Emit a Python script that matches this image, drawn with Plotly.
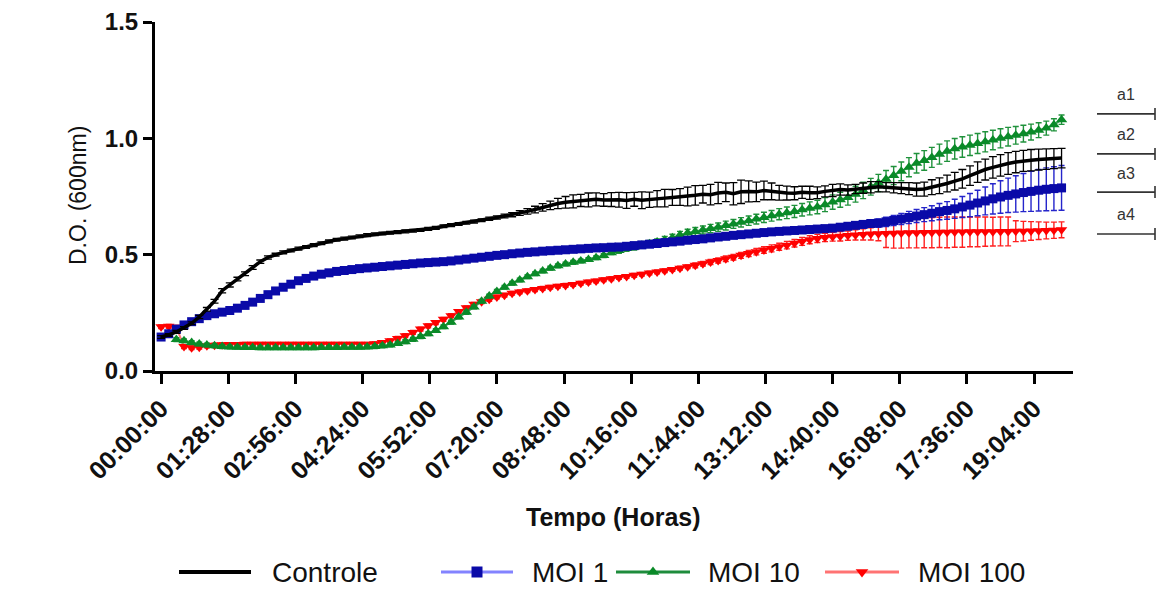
import plotly.graph_objects as go

# ---------------- data ----------------
minutes = list(range(0, 1190, 10))  # sampling grid (10 min)

tick_minutes = [0, 88, 176, 264, 352, 440, 528, 616, 704, 792, 880, 968, 1056, 1144]
tick_labels = ["00:00:00", "01:28:00", "02:56:00", "04:24:00", "05:52:00", "07:20:00",
               "08:48:00", "10:16:00", "11:44:00", "13:12:00", "14:40:00", "16:08:00",
               "17:36:00", "19:04:00"]

ctrl = [
    0.146, 0.155, 0.168, 0.185, 0.205, 0.232, 0.265, 0.300, 0.345, 0.370,
    0.395, 0.418, 0.445, 0.470, 0.488, 0.500, 0.510, 0.518, 0.526, 0.533,
    0.541, 0.549, 0.557, 0.564, 0.569, 0.574, 0.579, 0.584, 0.588, 0.591,
    0.594, 0.597, 0.600, 0.603, 0.606, 0.611, 0.615, 0.622, 0.627, 0.632,
    0.637, 0.642, 0.648, 0.654, 0.660, 0.666, 0.672, 0.679, 0.686, 0.694,
    0.703, 0.712, 0.720, 0.725, 0.729, 0.733, 0.735, 0.738, 0.735, 0.737,
    0.736, 0.733, 0.738, 0.734, 0.736, 0.740, 0.743, 0.746, 0.748, 0.750,
    0.755, 0.760, 0.758, 0.765, 0.768, 0.762, 0.770, 0.772, 0.770, 0.776,
    0.772, 0.766, 0.765, 0.764, 0.768, 0.766, 0.766, 0.772, 0.776, 0.780,
    0.778, 0.782, 0.786, 0.790, 0.792, 0.790, 0.788, 0.786, 0.784, 0.780,
    0.782, 0.790, 0.796, 0.806, 0.816, 0.826, 0.840, 0.855, 0.866, 0.875,
    0.884, 0.892, 0.898, 0.903, 0.906, 0.909, 0.911, 0.913, 0.915]
ctrl_sd = [
    0.006, 0.006, 0.006, 0.006, 0.006, 0.007, 0.008, 0.008, 0.009, 0.009,
    0.008, 0.008, 0.008, 0.007, 0.007, 0.006, 0.006, 0.006, 0.006, 0.006,
    0.006, 0.006, 0.006, 0.006, 0.006, 0.006, 0.006, 0.006, 0.006, 0.006,
    0.006, 0.006, 0.006, 0.006, 0.006, 0.006, 0.006, 0.006, 0.006, 0.006,
    0.006, 0.006, 0.006, 0.007, 0.007, 0.008, 0.009, 0.010, 0.012, 0.014,
    0.016, 0.018, 0.022, 0.025, 0.028, 0.026, 0.030, 0.028, 0.027, 0.030,
    0.032, 0.034, 0.030, 0.036, 0.033, 0.035, 0.038, 0.034, 0.036, 0.040,
    0.042, 0.038, 0.044, 0.046, 0.040, 0.048, 0.050, 0.045, 0.042, 0.040,
    0.036, 0.032, 0.030, 0.028, 0.026, 0.028, 0.025, 0.024, 0.026, 0.024,
    0.022, 0.020, 0.022, 0.024, 0.022, 0.020, 0.022, 0.024, 0.026, 0.028,
    0.030, 0.032, 0.034, 0.036, 0.038, 0.040, 0.042, 0.044, 0.045, 0.046,
    0.046, 0.047, 0.046, 0.045, 0.046, 0.045, 0.044, 0.043, 0.042]

moi1 = [
    0.146, 0.160, 0.180, 0.198, 0.212, 0.225, 0.238, 0.246, 0.253, 0.260,
    0.270, 0.282, 0.296, 0.312, 0.328, 0.344, 0.360, 0.373, 0.388, 0.398,
    0.408, 0.416, 0.422, 0.428, 0.432, 0.436, 0.440, 0.443, 0.446, 0.449,
    0.452, 0.455, 0.458, 0.461, 0.464, 0.466, 0.468, 0.470, 0.473, 0.477,
    0.481, 0.485, 0.489, 0.493, 0.497, 0.500, 0.504, 0.507, 0.510, 0.512,
    0.515, 0.517, 0.519, 0.521, 0.523, 0.525, 0.527, 0.529, 0.530, 0.532,
    0.533, 0.536, 0.539, 0.542, 0.545, 0.548, 0.552, 0.555, 0.558, 0.562,
    0.565, 0.568, 0.572, 0.576, 0.579, 0.583, 0.586, 0.589, 0.592, 0.595,
    0.598, 0.600, 0.602, 0.604, 0.606, 0.608, 0.610, 0.612, 0.614, 0.618,
    0.622, 0.626, 0.630, 0.634, 0.636, 0.641, 0.647, 0.653, 0.660, 0.666,
    0.672, 0.678, 0.685, 0.690, 0.697, 0.705, 0.713, 0.722, 0.731, 0.740,
    0.748, 0.755, 0.761, 0.767, 0.772, 0.777, 0.781, 0.784, 0.787]
moi1_sd = [
    0.010, 0.010, 0.010, 0.011, 0.011, 0.012, 0.012, 0.012, 0.011, 0.011,
    0.012, 0.012, 0.013, 0.013, 0.014, 0.014, 0.013, 0.013, 0.012, 0.012,
    0.011, 0.011, 0.011, 0.011, 0.011, 0.011, 0.011, 0.011, 0.011, 0.011,
    0.010, 0.010, 0.010, 0.010, 0.010, 0.010, 0.010, 0.010, 0.010, 0.010,
    0.010, 0.010, 0.010, 0.010, 0.010, 0.010, 0.010, 0.010, 0.010, 0.010,
    0.010, 0.010, 0.010, 0.010, 0.010, 0.010, 0.010, 0.010, 0.010, 0.010,
    0.010, 0.010, 0.010, 0.010, 0.010, 0.011, 0.011, 0.011, 0.011, 0.011,
    0.011, 0.011, 0.011, 0.011, 0.011, 0.011, 0.011, 0.011, 0.011, 0.011,
    0.011, 0.011, 0.011, 0.011, 0.011, 0.011, 0.011, 0.011, 0.011, 0.011,
    0.012, 0.013, 0.014, 0.016, 0.018, 0.020, 0.022, 0.024, 0.026, 0.028,
    0.030, 0.032, 0.035, 0.038, 0.041, 0.045, 0.050, 0.055, 0.060, 0.065,
    0.070, 0.074, 0.078, 0.082, 0.086, 0.089, 0.092, 0.094, 0.096]

moi10 = [
    None, None, 0.135, 0.130, 0.122, 0.116, 0.112, 0.108, 0.105, 0.103,
    0.102, 0.101, 0.101, 0.100, 0.100, 0.100, 0.100, 0.100, 0.100, 0.100,
    0.100, 0.101, 0.101, 0.101, 0.102, 0.102, 0.102, 0.103, 0.105, 0.108,
    0.112, 0.118, 0.126, 0.136, 0.148, 0.160, 0.174, 0.190, 0.210, 0.232,
    0.252, 0.275, 0.300, 0.322, 0.342, 0.360, 0.377, 0.391, 0.405, 0.418,
    0.430, 0.442, 0.452, 0.460, 0.467, 0.473, 0.479, 0.487, 0.496, 0.508,
    0.518, 0.526, 0.533, 0.540, 0.547, 0.554, 0.563, 0.573, 0.584, 0.593,
    0.600, 0.606, 0.612, 0.618, 0.625, 0.632, 0.639, 0.646, 0.653, 0.660,
    0.667, 0.674, 0.680, 0.686, 0.693, 0.699, 0.705, 0.715, 0.726, 0.736,
    0.746, 0.760, 0.776, 0.792, 0.808, 0.824, 0.840, 0.858, 0.876, 0.893,
    0.905, 0.918, 0.932, 0.945, 0.955, 0.963, 0.970, 0.978, 0.985, 0.993,
    1.000, 1.007, 1.013, 1.020, 1.027, 1.035, 1.044, 1.058, 1.080]
moi10_sd = [
    0.008, 0.008, 0.008, 0.008, 0.008, 0.008, 0.008, 0.008, 0.008, 0.008,
    0.008, 0.008, 0.008, 0.008, 0.008, 0.008, 0.008, 0.008, 0.008, 0.008,
    0.008, 0.008, 0.008, 0.008, 0.008, 0.008, 0.008, 0.008, 0.008, 0.008,
    0.008, 0.008, 0.008, 0.008, 0.008, 0.008, 0.008, 0.008, 0.008, 0.008,
    0.008, 0.008, 0.008, 0.008, 0.008, 0.008, 0.008, 0.008, 0.008, 0.008,
    0.008, 0.008, 0.008, 0.008, 0.008, 0.008, 0.008, 0.008, 0.008, 0.008,
    0.012, 0.012, 0.013, 0.013, 0.014, 0.014, 0.015, 0.015, 0.016, 0.016,
    0.017, 0.017, 0.018, 0.018, 0.019, 0.019, 0.020, 0.020, 0.021, 0.022,
    0.023, 0.024, 0.025, 0.026, 0.027, 0.028, 0.029, 0.030, 0.031, 0.032,
    0.033, 0.034, 0.035, 0.036, 0.037, 0.038, 0.039, 0.040, 0.041, 0.042,
    0.042, 0.043, 0.043, 0.044, 0.044, 0.044, 0.044, 0.043, 0.043, 0.042,
    0.041, 0.040, 0.038, 0.036, 0.034, 0.032, 0.030, 0.026, 0.020]

moi100 = [
    0.190, 0.192, 0.188, 0.105, 0.100, 0.102, 0.108, 0.111, 0.113, 0.114,
    0.114, 0.115, 0.115, 0.115, 0.115, 0.115, 0.115, 0.115, 0.115, 0.115,
    0.115, 0.115, 0.115, 0.115, 0.115, 0.115, 0.115, 0.115, 0.117, 0.122,
    0.130, 0.140, 0.152, 0.166, 0.180, 0.194, 0.208, 0.222, 0.238, 0.256,
    0.272, 0.287, 0.298, 0.308, 0.318, 0.326, 0.334, 0.340, 0.345, 0.350,
    0.355, 0.360, 0.364, 0.368, 0.372, 0.377, 0.382, 0.387, 0.392, 0.397,
    0.402, 0.406, 0.411, 0.416, 0.421, 0.426, 0.431, 0.436, 0.442, 0.448,
    0.454, 0.461, 0.468, 0.475, 0.482, 0.489, 0.497, 0.505, 0.513, 0.520,
    0.527, 0.534, 0.541, 0.549, 0.557, 0.564, 0.570, 0.574, 0.577, 0.579,
    0.582, 0.585, 0.587, 0.589, 0.590, 0.591, 0.592, 0.593, 0.594, 0.594,
    0.595, 0.595, 0.596, 0.596, 0.597, 0.597, 0.598, 0.598, 0.599, 0.599,
    0.600, 0.600, 0.601, 0.601, 0.602, 0.603, 0.604, 0.605, 0.607]
moi100_sd = [
    0.008, 0.008, 0.008, 0.008, 0.008, 0.008, 0.008, 0.008, 0.008, 0.008,
    0.008, 0.008, 0.008, 0.008, 0.008, 0.008, 0.008, 0.008, 0.008, 0.008,
    0.008, 0.008, 0.008, 0.008, 0.008, 0.008, 0.008, 0.008, 0.008, 0.008,
    0.008, 0.008, 0.008, 0.008, 0.008, 0.008, 0.008, 0.008, 0.008, 0.008,
    0.008, 0.008, 0.008, 0.008, 0.008, 0.008, 0.008, 0.008, 0.008, 0.008,
    0.008, 0.008, 0.008, 0.008, 0.008, 0.008, 0.008, 0.008, 0.008, 0.008,
    0.008, 0.008, 0.008, 0.008, 0.008, 0.008, 0.008, 0.008, 0.008, 0.008,
    0.010, 0.010, 0.011, 0.011, 0.012, 0.012, 0.013, 0.013, 0.014, 0.014,
    0.015, 0.015, 0.016, 0.016, 0.017, 0.017, 0.018, 0.018, 0.019, 0.020,
    0.020, 0.022, 0.024, 0.026, 0.030, 0.060, 0.064, 0.065, 0.065, 0.065,
    0.065, 0.065, 0.065, 0.066, 0.065, 0.065, 0.064, 0.064, 0.063, 0.062,
    0.062, 0.062, 0.045, 0.042, 0.040, 0.038, 0.036, 0.035, 0.034]

series_names = ["Controle", "MOI 1", "MOI 10", "MOI 100"]
bracket_labels = ["a1", "a2", "a3", "a4"]
bracket_levels = [1.105, 0.933, 0.769, 0.589]

# ---------------- styling ----------------
VIEW_W, VIEW_H = 1164, 593
OFF = 8                      # default page (body) margin
W, H = VIEW_W - OFF, VIEW_H - OFF
FONT = "Liberation Sans, Arial, Helvetica, sans-serif"
C_BLACK = "#000000"
C_BLUE = "#0a0aa8"
C_GREEN = "#0a8a28"
C_RED = "#ff0000"

def fx(p):
    """window pixel -> paper fraction"""
    return (p - OFF) / W

def fy(p):
    return 1 - (p - OFF) / H

fig = go.Figure()

# draw order: red, green, blue, black
fig.add_trace(go.Scatter(
    x=minutes, y=moi100, mode="lines+markers", name=series_names[3],
    line=dict(color="rgba(255,90,90,0.8)", width=2),
    marker=dict(symbol="triangle-down", size=10, color=C_RED, line=dict(width=0)),
    error_y=dict(type="data", array=moi100_sd, color="rgba(255,20,20,0.95)", thickness=1.4, width=3),
    showlegend=False))
fig.add_trace(go.Scatter(
    x=minutes, y=moi10, mode="lines+markers", name=series_names[2],
    line=dict(color="rgba(30,140,60,0.8)", width=2),
    marker=dict(symbol="triangle-up", size=10, color=C_GREEN, line=dict(width=0)),
    error_y=dict(type="data", array=moi10_sd, color="rgba(20,140,50,0.95)", thickness=1.4, width=3),
    showlegend=False))
fig.add_trace(go.Scatter(
    x=minutes, y=moi1, mode="lines+markers", name=series_names[1],
    line=dict(color="rgba(90,90,255,0.8)", width=2),
    marker=dict(symbol="square", size=9, color=C_BLUE, line=dict(width=0)),
    error_y=dict(type="data", array=moi1_sd, color="rgba(25,25,200,0.95)", thickness=1.4, width=3),
    showlegend=False))
fig.add_trace(go.Scatter(
    x=minutes, y=ctrl, mode="lines", name=series_names[0],
    line=dict(color=C_BLACK, width=3.5),
    error_y=dict(type="data", array=ctrl_sd, color=C_BLACK, thickness=1.3, width=4),
    showlegend=False))

# ---------------- custom legend (overlay axes in window-pixel units) ----------------
leg_y = 572
leg_items = [
    # name, line x0, line x1, text x, line colour, line width, marker symbol, marker colour
    (series_names[0], 179, 251, 270, C_BLACK, 4, None, None),
    (series_names[1], 441, 513, 530, "rgba(90,90,255,0.75)", 3, "square", C_BLUE),
    (series_names[2], 616, 690, 706, "#1e8c3c", 3, "triangle-up", C_GREEN),
    (series_names[3], 825, 899, 916, "rgba(255,80,80,0.8)", 3, "triangle-down", C_RED),
]
for name, x0, x1, tx, lc, lw, sym, mc in leg_items:
    fig.add_trace(go.Scatter(x=[x0, x1], y=[leg_y, leg_y], mode="lines",
                             line=dict(color=lc, width=lw), xaxis="x2", yaxis="y2",
                             showlegend=False, hoverinfo="skip"))
    if sym:
        fig.add_trace(go.Scatter(x=[(x0 + x1) / 2], y=[leg_y], mode="markers",
                                 marker=dict(symbol=sym, size=11, color=mc, line=dict(width=0)),
                                 xaxis="x2", yaxis="y2", showlegend=False, hoverinfo="skip"))
    fig.add_annotation(x=tx, y=leg_y, xref="x2", yref="y2", text=name, showarrow=False,
                       xanchor="left", yanchor="middle",
                       font=dict(family=FONT, size=28, color="#111111"))

# ---------------- brackets a1..a4 (line with end tick) ----------------
tick_half = 6 * 1.5 / (371 - 22)   # 6 px expressed in y-data units
xa, xb = fx(1097), fx(1155)
for lab, lev in zip(bracket_labels, bracket_levels):
    path = (f"M {xa},{lev} L {xb},{lev} "
            f"M {xb},{lev - tick_half} L {xb},{lev + tick_half}")
    fig.add_shape(type="path", xref="paper", yref="y", path=path,
                  line=dict(color="#333333", width=1.6))
    fig.add_annotation(x=fx(1126), y=lev, xref="paper", yref="y", yshift=19, text=lab,
                       showarrow=False, xanchor="center", yanchor="middle",
                       font=dict(family=FONT, size=16, color="#333333"))

# axis titles
fig.add_annotation(x=fx(78), y=fy(196), xref="paper", yref="paper", text="D.O. (600nm)",
                   textangle=-90, showarrow=False, xanchor="center", yanchor="middle",
                   font=dict(family=FONT, size=23, color="#111111"))
fig.add_annotation(x=fx(613), y=fy(517), xref="paper", yref="paper", text="Tempo (Horas)",
                   showarrow=False, xanchor="center", yanchor="middle",
                   font=dict(family=FONT, size=25, color="#111111", weight="bold"))

fig.update_layout(
    width=W, height=H, autosize=False,
    margin=dict(l=0, r=0, t=0, b=0, pad=0),
    paper_bgcolor="white", plot_bgcolor="rgba(0,0,0,0)",
    showlegend=False,
    xaxis=dict(domain=[fx(155), fx(1073)], range=[-8, 1195], anchor="y", automargin=False,
               tickmode="array", tickvals=tick_minutes, ticktext=tick_labels, tickangle=-45,
               ticks="outside", ticklen=10, tickwidth=3, tickcolor="black",
               showline=True, linecolor="black", linewidth=3, showgrid=False, zeroline=False,
               tickfont=dict(family=FONT, size=25, color="#111111", weight="bold")),
    yaxis=dict(domain=[fy(371), fy(22)], range=[0, 1.5], anchor="x", automargin=False,
               tickmode="array", tickvals=[0, 0.5, 1.0, 1.5], ticktext=["0.0", "0.5", "1.0", "1.5"],
               ticks="outside", ticklen=9, tickwidth=3, tickcolor="black",
               showline=True, linecolor="black", linewidth=3, showgrid=False, zeroline=False,
               tickfont=dict(family=FONT, size=24, color="#111111", weight="bold")),
    xaxis2=dict(domain=[0, 1], range=[OFF, OFF + W], anchor="y2", visible=False, fixedrange=True,
                automargin=False),
    yaxis2=dict(domain=[0, 1], range=[OFF + H, OFF], anchor="x2", visible=False, fixedrange=True,
                automargin=False),
)

fig.write_html("out.html")
